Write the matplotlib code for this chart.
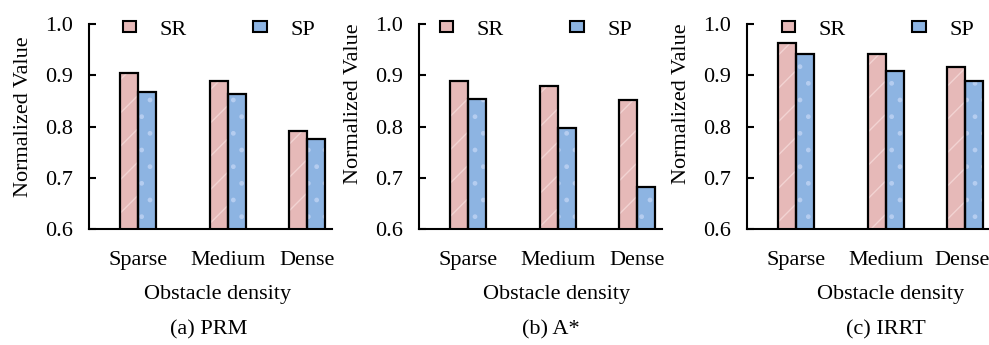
import matplotlib
matplotlib.use("Agg")
import matplotlib.pyplot as plt
from matplotlib.patches import Patch
from matplotlib.transforms import ScaledTranslation
import numpy as np

plt.rcParams['font.family'] = ['Liberation Serif', 'DejaVu Serif']
plt.rcParams['hatch.linewidth'] = 1.0

categories = ["Sparse", "Medium", "Dense"]
series_names = ["SR", "SP"]
prm_sr = [0.904, 0.888, 0.792]
prm_sp = [0.867, 0.864, 0.776]
astar_sr = [0.888, 0.879, 0.851]
astar_sp = [0.853, 0.798, 0.681]
irrt_sr = [0.962, 0.941, 0.917]
irrt_sp = [0.941, 0.909, 0.888]
captions = ["(a) PRM", "(b) A*", "(c) IRRT"]
yticks = [0.6, 0.7, 0.8, 0.9, 1.0]
ytick_labels = ["0.6", "0.7", "0.8", "0.9", "1.0"]

panels = [(prm_sr, prm_sp), (astar_sr, astar_sp), (irrt_sr, irrt_sp)]

# layout
W, H = 989, 345
fig = plt.figure(figsize=(W / 100, H / 100), dpi=100)
ax_lefts = [89, 419, 747.3]
ax_w, ax_top, ax_bot = 243, 24, 229
xpos = np.array([0.0, 1.0, 1.884])
bw = 0.2007
xlim = (-0.546, 2.163)
sr_color, sp_color = "#E6B9B8", "#8DB4E2"
sr_hatch_c, sp_hatch_c = "#F2D3D2", "#B5CDF0"
legend_x = [0.139, 0.086, 0.142]
ylabel_y = [0.55, 0.61, 0.61]
xlabel_x = [0.53, 0.567, 0.588]
caption_x = [208.8, 550.8, 885.8]

for i, (sr, sp) in enumerate(panels):
    ax = fig.add_axes([ax_lefts[i] / W, (H - ax_bot) / H, ax_w / W, (ax_bot - ax_top) / H])
    # fill + hatch layer
    ax.bar(xpos - bw / 2, sr, bw, color=sr_color, edgecolor=sr_hatch_c, hatch="/", linewidth=0, zorder=2)
    ax.bar(xpos + bw / 2, sp, bw, color=sp_color, edgecolor=sp_hatch_c, hatch=".", linewidth=0, zorder=2)
    # outline layer
    ax.bar(xpos - bw / 2, sr, bw, fill=False, edgecolor="black", linewidth=1.6, zorder=3)
    ax.bar(xpos + bw / 2, sp, bw, fill=False, edgecolor="black", linewidth=1.6, zorder=3)

    ax.set_xlim(*xlim)
    ax.set_ylim(0.6, 1.0)
    ax.set_yticks(yticks)
    ax.set_yticklabels(ytick_labels)
    ax.set_xticks(xpos)
    ax.set_xticklabels(categories)
    for s in ["top", "right"]:
        ax.spines[s].set_visible(False)
    for s in ["left", "bottom"]:
        ax.spines[s].set_linewidth(1.5)
    ax.tick_params(axis="y", direction="in", length=5, width=1.5, pad=11.5, labelsize=16)
    ax.tick_params(axis="x", length=0, pad=15.5, labelsize=16)
    if i == 2:
        lbl = ax.get_xticklabels()[-1]
        lbl.set_transform(lbl.get_transform() + ScaledTranslation(-3 / 100, 0, fig.dpi_scale_trans))

    ax.set_ylabel("Normalized Value", fontsize=16)
    ax.yaxis.set_label_coords(-0.230, ylabel_y[i])
    ax.set_xlabel("Obstacle density", fontsize=16)
    ax.xaxis.set_label_coords(xlabel_x[i], -0.272)
    ax.xaxis.label.set_va("top")

    handles = [Patch(facecolor=sr_color, edgecolor="black", linewidth=1.5),
               Patch(facecolor=sp_color, edgecolor="black", linewidth=1.5)]
    ax.legend(handles, series_names, loc="center left", bbox_to_anchor=(legend_x[i], 0.97),
              ncol=2, frameon=False, fontsize=16, borderpad=0, borderaxespad=0,
              handlelength=0.6, handleheight=0.38, handletextpad=1.05, columnspacing=3.0)

    fig.text(caption_x[i] / W, 1 - 330 / H, captions[i], ha="center", va="center", fontsize=16)

fig.savefig("out.png", dpi=100)
